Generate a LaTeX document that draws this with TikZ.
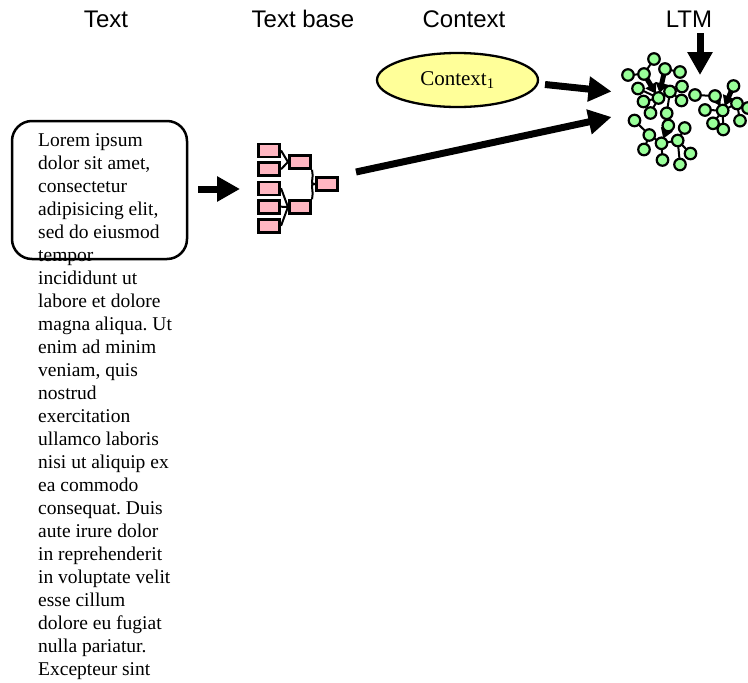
\documentclass[tikz,border=0pt]{standalone}
\usepackage{fontspec}
\setmainfont{Liberation Serif}
\newfontfamily\headfont{Liberation Sans}
\usetikzlibrary{arrows.meta,shapes.geometric,calc}

\definecolor{ctxyellow}{HTML}{FFFF99}
\definecolor{unitpink}{HTML}{FFB6C1}
\definecolor{conceptgreen}{HTML}{99FF99}

\tikzset{
  head/.style={font=\headfont\fontsize{24pt}{28pt}\selectfont, anchor=base, inner sep=0pt},
  bigarrow/.style={line width=7pt, -{Triangle[length=23pt,width=24pt]}},
  unit/.style={draw, line width=2.6pt, fill=unitpink, minimum width=21.5pt, minimum height=13pt, inner sep=0pt},
  link/.style={line width=2pt},
  concept/.style={circle, draw, line width=2.2pt, fill=conceptgreen, minimum size=11.5pt, inner sep=0pt},
  pull/.style={line width=5pt, -{Triangle[length=10pt,width=12pt]}},
}

\begin{document}
\begin{tikzpicture}[x=1pt, y=-1pt]
\useasboundingbox (0,0) rectangle (748,683);

% column headings
\node[head] (hText) at (106,27) {Text};
\node[head] (hBase) at (303,27) {Text base};
\node[head] (hCtx)  at (464,27) {Context};
\node[head] (hLTM)  at (689,27) {LTM};

% the text, in a rounded frame it overflows
\node[draw, line width=2.5pt, rounded corners=20pt, minimum width=175pt, minimum height=138pt]
  (textbox) at (99.5,190) {};
\node[anchor=north west, inner sep=0pt, align=left,
      font=\fontsize{19.5pt}{23pt}\selectfont\frenchspacing] (body) at (38,133.5) {%
Lorem ipsum\\ dolor sit amet,\\ consectetur\\ adipisicing elit,\\ sed do eiusmod\\ tempor\\
incididunt ut\\ labore et dolore\\ magna aliqua. Ut\\ enim ad minim\\ veniam, quis\\ nostrud\\
exercitation\\ ullamco laboris\\ nisi ut aliquip ex\\ ea commodo\\ consequat. Duis\\
aute irure dolor\\ in reprehenderit\\ in voluptate velit\\ esse cillum\\ dolore eu fugiat\\
nulla pariatur.\\ Excepteur sint};

% text base: propositions combined into macro units
\node[unit] (tb1) at (269,150.5) {};
\node[unit] (tb2) at (269,169.2) {};
\node[unit] (tb3) at (269,188.3) {};
\node[unit] (tb4) at (269,206.7) {};
\node[unit] (tb5) at (269,225.8) {};
\node[unit] (tbm1) at (300,162) {};
\node[unit] (tbm2) at (300,207) {};
\node[unit] (tbr) at (327,184) {};
\draw[link] (tb1.east) -- (tbm1.west);
\draw[link] (tb2.east) -- (tbm1.west);
\draw[link] (tb3.east) -- (tbm2.west);
\draw[link] (tb4.east) -- (tbm2.west);
\draw[link] (tb5.east) -- (tbm2.west);
\draw[link] (tbm1.south east) .. controls +(2,12) and +(-6,0) .. (tbr.west);
\draw[link] (tbm2.north east) .. controls +(2,-12) and +(-6,0) .. (tbr.west);

% context
\node[ellipse, draw, line width=2.3pt, fill=ctxyellow, minimum width=161pt, minimum height=54pt,
      font=\fontsize{21pt}{24pt}\selectfont] (ctx) at (457.5,80) {Context\textsubscript{1}};

% long-term memory network
\foreach \n/\x/\y in {
  a1/654/59, a2/628/75, a3/644/74, a4/665/69, a5/680/72, a6/638/88.5, a7/658.5/98,
  a8/670/91.5, a9/682/86.5, a10/643.5/101.5, a11/681.5/100.5, a12/650.5/113, a13/666.7/113.3,
  b1/634.5/120.5, b2/649.3/135, b3/668.3/125.5, b4/684.7/128, b5/661.5/143.3, b6/677.7/140.5,
  b7/644/149.5, b8/662.5/160, b9/680/164.5, b10/690.5/153.5,
  c1/695/95, c2/715/96, c3/733.5/86, c4/705/110, c5/722.7/110.5, c6/737/103.5, c7/748/108,
  c8/713/123.3, c9/740/120.7, c10/723.3/129.5}
  \coordinate (\n) at (\x,\y);

\begin{scope}[link]
\foreach \p/\q in {a1/a3, a2/a3, a3/a7, a4/a7, a4/a5, a6/a7, a7/a8, a8/a9, a8/a11, a7/a10,
  a7/a12, a8/a13, b1/b2, b2/b5, b3/b5, b5/b6, b6/b4, b6/b10, b6/b9, b5/b8, b2/b7,
  c1/c2, c2/c5, c3/c5, c5/c6, c6/c7, c5/c4, c5/c8, c5/c10, c6/c9}
  \draw (\p) -- (\q);
\end{scope}

% activation spreading to the retrieved concepts
\draw[pull] ($(a3)!0.2!(a7)$) -- ($(a7)!5pt!(a3)$);
\draw[pull] ($(a4)!0.2!(a7)$) -- ($(a7)!5pt!(a4)$);
\draw[pull] ($(b3)!0.15!(b5)$) -- ($(b5)!5pt!(b3)$);
\draw[pull] ($(c3)!0.2!(c5)$) -- ($(c5)!5pt!(c3)$);
\draw[pull] ($(c2)!0.2!(c5)$) -- ($(c5)!5pt!(c2)$);

\foreach \n in {a1,a2,a3,a4,a5,a6,a7,a8,a9,a10,a11,a12,a13,
  b1,b2,b3,b4,b5,b6,b7,b8,b9,b10,c1,c2,c3,c4,c5,c6,c7,c8,c9,c10}
  \node[concept] (n\n) at (\n) {};

% inputs to long-term memory
\coordinate (textout) at (198,189);
\coordinate (tbin) at (240,189);
\coordinate (baseout) at (356,172);
\coordinate (ltmin1) at (611.5,117);
\coordinate (ctxout) at (545,84.5);
\coordinate (ltmin2) at (611.5,91.5);
\coordinate (ltmtop) at (700,33);
\coordinate (ltmin3) at (700,75);
\draw[bigarrow] (textout) -- (tbin);
\draw[bigarrow] (baseout) -- (ltmin1);
\draw[bigarrow] (ctxout) -- (ltmin2);
\draw[bigarrow] (ltmtop) -- (ltmin3);
\end{tikzpicture}
\end{document}
